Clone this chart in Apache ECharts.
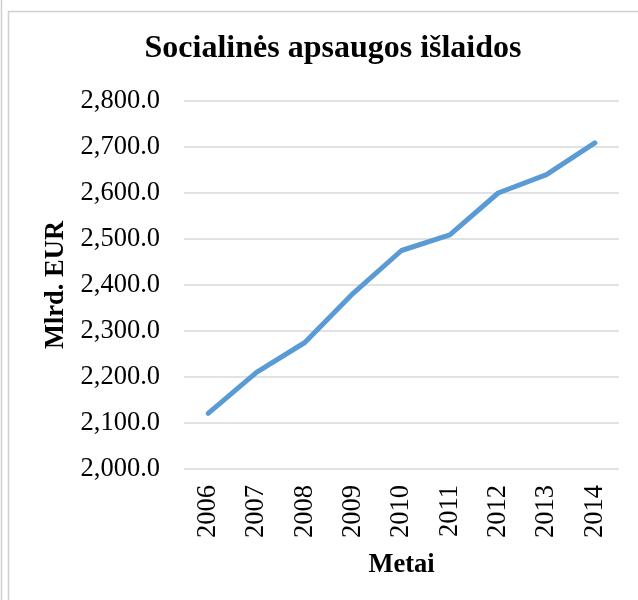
<!DOCTYPE html>
<html>
<head>
<meta charset="utf-8">
<script src="https://cdn.jsdelivr.net/npm/echarts@6/dist/echarts.min.js"></script>
<style>
html,body{margin:0;padding:0;background:#fff;}
#chart{width:638px;height:600px;}
</style>
</head>
<body>
<div id="chart"></div>
<script>
const years = ['2006','2007','2008','2009','2010','2011','2012','2013','2014'];
const values = [2121, 2210, 2275, 2382, 2475, 2509, 2600, 2640, 2709];
const titleText = 'Socialinės apsaugos išlaidos';
const yName = 'Mlrd. EUR';
const xName = 'Metai';

const FONT = '"Liberation Serif", "Times New Roman", serif';
const chart = echarts.init(document.getElementById('chart'));
chart.setOption({
  backgroundColor: '#fff',
  animation: false,
  title: {
    text: titleText,
    left: 328,
    textAlign: 'center',
    top: 28,
    textStyle: {fontFamily: FONT, fontSize: 32, fontWeight: 'bold', color: '#000'}
  },
  graphic: [
    {type: 'line', shape: {x1: 1.5, y1: 0, x2: 1.5, y2: 600}, style: {stroke: '#d0d0d0', lineWidth: 1.5}},
    {type: 'polyline', shape: {points: [[8.5, 600], [8.5, 11.5], [638, 11.5]]}, style: {stroke: '#d0d0d0', lineWidth: 1.5, fill: null}}
  ],
  grid: {left: 184, right: 19, top: 101, bottom: 131},
  xAxis: {
    type: 'category',
    data: years,
    boundaryGap: true,
    name: xName,
    nameLocation: 'middle',
    nameGap: 83,
    nameTextStyle: {fontFamily: FONT, fontSize: 26.5, fontWeight: 'bold', color: '#000'},
    axisLine: {show: false},
    axisTick: {show: false},
    axisLabel: {rotate: 90, margin: 16, fontFamily: FONT, fontSize: 26.5, color: '#000'}
  },
  yAxis: {
    type: 'value',
    min: 2000,
    max: 2800,
    interval: 100,
    name: yName,
    nameLocation: 'middle',
    nameGap: 104,
    nameTextStyle: {fontFamily: FONT, fontSize: 26.5, fontWeight: 'bold', color: '#000'},
    axisLine: {show: false},
    axisTick: {show: false},
    splitLine: {lineStyle: {color: '#d9d9d9', width: 1.5}},
    axisLabel: {
      margin: 24,
      fontFamily: FONT, fontSize: 26.5, color: '#000',
      formatter: v => v.toLocaleString('en-US', {minimumFractionDigits: 1, maximumFractionDigits: 1})
    }
  },
  series: [{
    type: 'line',
    data: values,
    showSymbol: false,
    symbol: 'none',
    lineStyle: {color: '#5B9BD5', width: 5, cap: 'round', join: 'round'}
  }]
});
</script>
</body>
</html>
